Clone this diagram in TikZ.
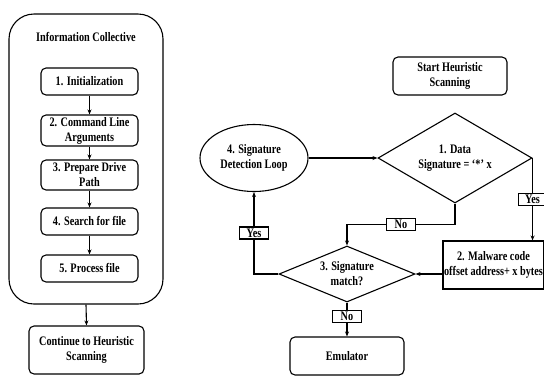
\documentclass[tikz,border=0pt]{standalone}
\usepackage{fontspec}
\setmainfont{Liberation Serif}[FakeStretch=0.79]
\usetikzlibrary{arrows.meta, positioning, shapes.geometric}

\begin{document}
\begin{tikzpicture}[x=1pt, y=-1pt, >={Stealth[length=5pt,width=4pt]}, line width=1.1pt,
  font=\fontsize{13}{15}\selectfont\bfseries,
  box/.style={draw, rounded corners=5pt, align=center, inner sep=1pt},
  stepbox/.style={box, minimum width=97pt, minimum height=27pt},
  decision/.style={draw, diamond, align=center, inner sep=0pt},
  lbl/.style={draw, fill=white, inner sep=0pt, minimum width=29pt, minimum height=12pt}]
  \useasboundingbox (0,0) rectangle (544,376);
  %% left column: information collective
  \node[draw, rounded corners=25pt, minimum width=154pt, minimum height=290pt] (coll) at (86,159) {};
  \node (title) at (86,37) {Information Collective};
  \node[stepbox] (init) at (89.5,81.5) {1. Initialization};
  \node[stepbox, minimum height=31pt] (args) at (89.5,130.5) {2. Command Line\\Arguments};
  \node[stepbox, minimum height=30pt] (path) at (89.5,175) {3. Prepare Drive\\Path};
  \node[stepbox] (search) at (89.5,221.5) {4. Search for file};
  \node[stepbox] (proc) at (89.5,268.5) {5. Process file};
  \node[box, minimum width=115pt, minimum height=48pt] (cont) at (86.5,350) {Continue to Heuristic\\Scanning};
  \foreach \a/\b in {init/args, args/path, path/search, search/proc}
    \draw[->] (\a) -- (\b);
  \draw[->] (coll.south) -- (cont.north);
  %% right side: heuristic scanning
  \node[box, minimum width=114pt, minimum height=38pt] (start) at (450,76) {Start Heuristic\\Scanning};
  \node[decision, aspect=1.71, minimum width=154pt, minimum height=90pt] (data) at (455,158) {1. Data\\Signature = ‘*’ x};
  \node[draw, ellipse, align=center, inner sep=0pt, minimum width=108pt, minimum height=67pt] (sigloop) at (254,158) {4. Signature\\Detection Loop};
  \node[draw, align=center, inner sep=1pt, minimum width=101pt, minimum height=48pt] (malw) at (493.5,265) {2. Malware code\\offset address+ x bytes};
  \node[decision, aspect=2.43, minimum width=136pt, minimum height=56pt] (match) at (347,274) {3. Signature\\match?};
  \node[box, minimum width=114pt, minimum height=38pt] (emu) at (347,356) {Emulator};
  %% connectors
  \draw[->] (sigloop) -- (data);
  \draw[->] (data.east) -- node[lbl]{Yes} (data.east |- malw.north);
  \draw[->] (data.south) -- ++(0,21) -| node[lbl, pos=0.25]{No} (match.north);
  \draw[->] (malw.west |- match.east) -- (match.east);
  \draw[->] (match.west) -| node[lbl, pos=0.75]{Yes} (sigloop.south);
  \draw[->] (match.south) -- node[lbl, pos=0.4]{No} (emu.north);
\end{tikzpicture}
\end{document}
